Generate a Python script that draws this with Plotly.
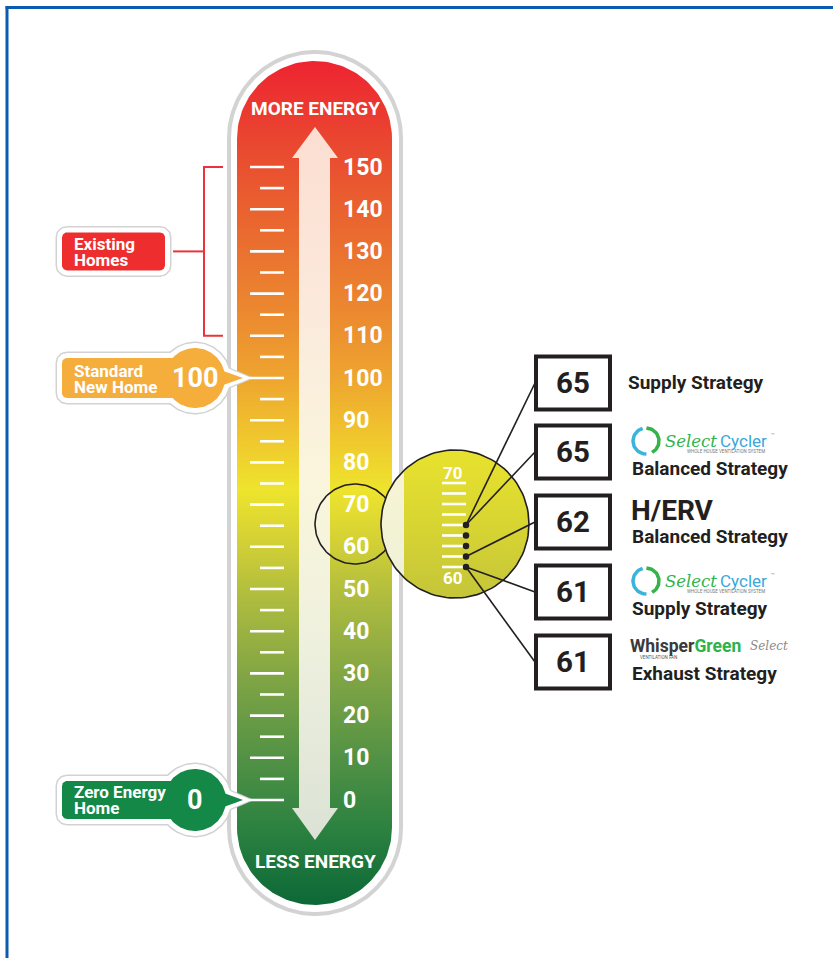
import numpy as np
import plotly.graph_objects as go

W, H = 833, 958

# ---------------- data ----------------
scale_ticks = [0, 5, 10, 15, 20, 25, 30, 35, 40, 45, 50, 55, 60, 65, 70, 75,
               80, 85, 90, 95, 100, 105, 110, 115, 120, 125, 130, 135, 140, 145, 150]
scale_labels = [0, 10, 20, 30, 40, 50, 60, 70, 80, 90, 100, 110, 120, 130, 140, 150]
existing_homes = [110, 150]
standard_new_home = 100
zero_energy_home = 0
zoom_ticks = [61, 62, 63, 64, 65, 66, 67, 68, 69]
zoom_dots = [61, 62, 63, 64, 65]
zoom_labels = [70, 60]
product_scores = [65, 65, 62, 61, 61]
product_brands = ["", "SelectCycler", "H/ERV", "SelectCycler", "WhisperGreenSelect"]
product_strategies = ["Supply Strategy", "Balanced Strategy", "Balanced Strategy",
                      "Supply Strategy", "Exhaust Strategy"]

# ---------------- scale geometry ----------------
PX_PER_UNIT = 4.22      # main thermometer scale
ZERO_PY = 800           # pixel row of value 0
ZPX = 10.5              # magnified scale
ZREF_V, ZREF_PY = 65, 525

FONT = "Roboto"
DARK = "#231f20"


def Y(py):
    return H - py


def arc_pts(cx, cy, r, a0, a1, n=80):
    a = np.radians(np.linspace(a0, a1, n))
    return [(cx + r * np.cos(t), cy - r * np.sin(t)) for t in a]


def stadium(x0, x1, top, bot):
    r = (x1 - x0) / 2
    cx = (x0 + x1) / 2
    return arc_pts(cx, top + r, r, 180, 0) + arc_pts(cx, bot - r, r, 0, -180)


def rrect(x0, x1, top, bot, r):
    return (arc_pts(x1 - r, top + r, r, 90, 0, 12) + arc_pts(x1 - r, bot - r, r, 0, -90, 12)
            + arc_pts(x0 + r, bot - r, r, -90, -180, 12) + arc_pts(x0 + r, top + r, r, 180, 90, 12))


def circle(cx, cy, r, n=120):
    return arc_pts(cx, cy, r, 0, 360, n)


fig = go.Figure()


def poly_px(pts, fill=None, line_color="rgba(0,0,0,0)", line_width=0, gradient=None):
    xs = [p[0] for p in pts] + [pts[0][0]]
    ys = [Y(p[1]) for p in pts] + [Y(pts[0][1])]
    kw = {}
    if gradient is not None:
        top = min(p[1] for p in pts)
        bot = max(p[1] for p in pts)
        cs = sorted([[min(1, max(0, (bot - py) / (bot - top))), c] for py, c in gradient])
        cs[0][0] = 0.0
        cs[-1][0] = 1.0
        kw["fillgradient"] = dict(type="vertical", colorscale=cs, start=Y(bot), stop=Y(top))
        kw["fill"] = "toself"
    elif fill is not None:
        kw["fill"] = "toself"
        kw["fillcolor"] = fill
    fig.add_trace(go.Scatter(x=xs, y=ys, mode="lines",
                             line=dict(color=line_color, width=line_width),
                             hoverinfo="skip", showlegend=False, **kw))


# ---------------- thermometer body ----------------
poly_px(stadium(227, 403, 50, 916), fill="#d3d3d3")
poly_px(stadium(231, 399, 54, 912), fill="#ffffff")
body_stops = [(61, "#ee2431"), (150, "#e94a30"), (250, "#ea712f"), (330, "#ec902f"),
              (378, "#eea52f"), (440, "#f0c82e"), (490, "#eee42d"), (540, "#d4d135"),
              (600, "#adbb3f"), (680, "#7fa444"), (760, "#519145"), (830, "#2b8140"),
              (905, "#0c6837")]
poly_px(stadium(237, 392, 61, 905), gradient=body_stops)

# arrow
arrow = [(315, 127), (338, 158), (330, 158), (330, 808), (338, 808), (315, 840),
         (292, 808), (299, 808), (299, 158), (292, 158)]
arrow_stops = [(127, "#fbded1"), (300, "#fbe9dc"), (480, "#faf6dc"), (650, "#eef0de"),
               (840, "#dbe2d5")]
poly_px(arrow, gradient=arrow_stops)

# small lens circle
poly_px(circle(355, 524, 40), line_color=DARK, line_width=1.6)

# big magnified circle
big_c = (455, 524, 74)
poly_px(circle(*big_c), gradient=[(450, "#e8e22e"), (524, "#d8d532"), (598, "#c4c53a")])
# magnified pale arrow band
ang = np.degrees(np.arccos((404 - big_c[0]) / big_c[2]))
band = arc_pts(big_c[0], big_c[1], big_c[2], ang, 360 - ang, 60)
poly_px(band, gradient=[(450, "#f7f4d2"), (598, "#eff1d8")])
poly_px(circle(*big_c), line_color=DARK, line_width=1.6)

# ---------------- left callouts (on value axis y2) ----------------
def y2_of(value, dpy):
    return value - dpy / PX_PER_UNIT


def poly_val(value, pts, color):
    xs = [p[0] for p in pts] + [pts[0][0]]
    ys = [y2_of(value, p[1]) for p in pts] + [y2_of(value, pts[0][1])]
    fig.add_trace(go.Scatter(x=xs, y=ys, yaxis="y2", mode="lines", fill="toself",
                             fillcolor=color, line=dict(width=0, color="rgba(0,0,0,0)"),
                             hoverinfo="skip", showlegend=False))


def bubble(value, color, rect_x1, half_h, cx, r, tip_x):
    for e, col in [(6.5, "#d2d2d2"), (5, "#ffffff"), (0, color)]:
        poly_val(value, rrect(62 - e, rect_x1, -half_h - e, half_h + e, 5 + e), col)
        poly_val(value, circle(cx, 0, r + e), col)
        poly_val(value, [(cx + r * 0.75, -(9 + e)), (cx + r * 0.75, 9 + e),
                         (tip_x + 1.7 * e, 0)], col)


existing_mid = sum(existing_homes) / 2
for e, col in [(6.5, "#d2d2d2"), (5, "#ffffff"), (0, "#ee2e2e")]:
    poly_val(existing_mid, rrect(62 - e, 165 + e, -19 - e, 19 + e, 5 + e), col)
bubble(standard_new_home, "#f5ad3b", 200, 20, 195, 30, 243)
bubble(zero_energy_home, "#138847", 200, 19, 195, 31, 243)

# red bracket for existing homes
fig.add_trace(go.Scatter(
    x=[223, 204, 204, 223, None, 173, 204],
    y=[existing_homes[1], existing_homes[1], existing_homes[0], existing_homes[0], None,
       existing_mid, existing_mid],
    yaxis="y2", mode="lines", line=dict(color="#e8343a", width=2),
    hoverinfo="skip", showlegend=False))

# scale ticks
tx, ty = [], []
for v in scale_ticks:
    tx += [250 if v % 10 == 0 else 260, 284, None]
    ty += [v, v, None]
fig.add_trace(go.Scatter(x=tx, y=ty, yaxis="y2", mode="lines",
                         line=dict(color="white", width=2.6),
                         hoverinfo="skip", showlegend=False))

# ---------------- magnified scale (y3) ----------------
zx, zy = [], []
for v in zoom_ticks:
    zx += [442, 466, None]
    zy += [v, v, None]
fig.add_trace(go.Scatter(x=zx, y=zy, yaxis="y3", mode="lines",
                         line=dict(color="white", width=2.6),
                         hoverinfo="skip", showlegend=False))

box_centers = [383, 452, 522, 592, 662]


def y3_of_py(py):
    return ZREF_V + (Y(py) - Y(ZREF_PY)) / ZPX


cx_, cy_ = [], []
for s, bc in zip(product_scores, box_centers):
    cx_ += [466, 535, None]
    cy_ += [s, y3_of_py(bc), None]
fig.add_trace(go.Scatter(x=cx_, y=cy_, yaxis="y3", mode="lines",
                         line=dict(color=DARK, width=1.6),
                         hoverinfo="skip", showlegend=False))
fig.add_trace(go.Scatter(x=[466] * len(zoom_dots), y=zoom_dots, yaxis="y3", mode="markers",
                         marker=dict(color=DARK, size=6.5),
                         hoverinfo="skip", showlegend=False))


def txt(text, x, y, size, color, yref="y", xanchor="left", weight="bold", family=FONT,
        style="normal", yshift=0):
    fig.add_annotation(text=text, x=x, y=y, xref="x", yref=yref, xanchor=xanchor,
                       yanchor="middle", showarrow=False, yshift=yshift,
                       font=dict(family=family, size=size, color=color, weight=weight,
                                 style=style))


for v in scale_labels:
    txt(str(v), 341, v, 23, "white", yref="y2")
for v in zoom_labels:
    txt(str(v), 453, v, 17, "white", yref="y3", xanchor="center")

txt("MORE ENERGY", 315, Y(108), 19, "white", xanchor="center")
txt("LESS ENERGY", 315, Y(861), 19, "white", xanchor="center")

# callout texts
txt("Existing", 72, existing_mid, 17, "white", yref="y2", yshift=7.5)
txt("Homes", 72, existing_mid, 17, "white", yref="y2", yshift=-8.5)
txt("Standard", 72, standard_new_home, 17, "white", yref="y2", yshift=7.5)
txt("New Home", 72, standard_new_home, 17, "white", yref="y2", yshift=-8.5)
txt(str(standard_new_home), 195, standard_new_home, 27, "white", yref="y2", xanchor="center")
txt("Zero Energy", 72, zero_energy_home, 17, "white", yref="y2", yshift=8)
txt("Home", 72, zero_energy_home, 17, "white", yref="y2", yshift=-8)
txt(str(zero_energy_home), 195, zero_energy_home, 27, "white", yref="y2", xanchor="center")

# ---------------- result boxes ----------------
for s, bc in zip(product_scores, box_centers):
    fig.add_shape(type="rect", xref="x", yref="y", x0=536, x1=610, y0=Y(bc + 26.5),
                  y1=Y(bc - 26.5), line=dict(color=DARK, width=4), fillcolor="white")
    txt(str(s), 573, Y(bc), 29.5, DARK, xanchor="center")


def select_cycler(py):
    # circular arrows logo
    for a0, a1, col in [(105, 272, "#3bb4dc"), (88, -62, "#35b24a")]:
        pts = arc_pts(646, py, 13, a0, a1, 40)
        fig.add_trace(go.Scatter(x=[p[0] for p in pts], y=[Y(p[1]) for p in pts],
                                 mode="lines", line=dict(color=col, width=3.5),
                                 hoverinfo="skip", showlegend=False))
    txt("Select", 663, Y(py), 16.5, "#2fb34a", weight="normal", family="DejaVu Serif",
        style="italic")
    txt("Cycler", 769, Y(py), 17, "#3ba7d9", weight="normal", xanchor="right")
    txt("™", 769, Y(py - 7), 6, "#3ba7d9", weight="normal")
    txt("WHOLE HOUSE VENTILATION SYSTEM", 726, Y(py + 10), 4.5, "#777777",
        weight="normal", xanchor="center")


for i, (brand, strat, bc) in enumerate(zip(product_brands, product_strategies, box_centers)):
    if brand == "":
        txt(strat, 626, Y(bc - 1), 19, DARK)
    elif brand == "SelectCycler":
        select_cycler(bc - 11)
        txt(strat, 630, Y(bc + 16), 19, DARK)
    elif brand == "H/ERV":
        txt(brand, 629, Y(bc - 12), 28, DARK)
        txt(strat, 630, Y(bc + 14), 19, DARK)
    else:
        txt('Whisper<span style="color:#2db34a">Green</span>', 628, Y(bc - 16), 17.5,
            "#3a3a3a")
        txt("Select", 748, Y(bc - 16), 12, "#8a8a8a", weight="normal",
            family="DejaVu Serif", style="italic")
        txt("VENTILATION FAN", 658, Y(bc - 5), 4.5, "#555555", weight="normal",
            xanchor="center")
        txt(strat, 630, Y(bc + 11), 19, DARK)

# blue frame
fig.add_shape(type="line", xref="x", yref="y", x0=7, x1=7, y0=Y(6), y1=Y(958),
              line=dict(color="#0b5cb0", width=3))
fig.add_shape(type="line", xref="x", yref="y", x0=5.5, x1=833, y0=Y(7.5), y1=Y(7.5),
              line=dict(color="#0b5cb0", width=3))

fig.update_layout(
    width=W, height=H, margin=dict(l=0, r=0, t=0, b=0),
    paper_bgcolor="white", plot_bgcolor="white", showlegend=False,
    xaxis=dict(range=[0, W], visible=False, fixedrange=True),
    yaxis=dict(range=[0, H], visible=False, fixedrange=True),
    yaxis2=dict(range=[(0 - Y(ZERO_PY)) / PX_PER_UNIT, (H - Y(ZERO_PY)) / PX_PER_UNIT],
                overlaying="y", visible=False, fixedrange=True),
    yaxis3=dict(range=[ZREF_V + (0 - Y(ZREF_PY)) / ZPX, ZREF_V + (H - Y(ZREF_PY)) / ZPX],
                overlaying="y", visible=False, fixedrange=True),
)

fig.write_html("out.html", config={"displayModeBar": False},
               post_script="document.body.style.margin='0';document.body.style.overflow='hidden';")
